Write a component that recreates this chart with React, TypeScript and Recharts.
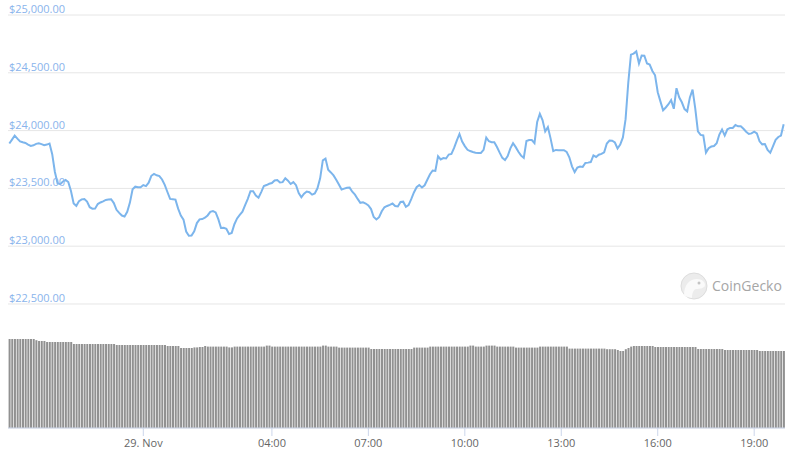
import React from 'react';
import { ComposedChart, Line, Bar, XAxis, YAxis, CartesianGrid } from 'recharts';

// 5 minute samples, first one at 28 Nov 19:50
const START_MINUTES = 19 * 60 + 50;
const STEP_MINUTES = 5;

const prices = [
  23888, 23922, 23957, 23931, 23907, 23899, 23893, 23879, 23868, 23873,
  23885, 23890, 23883, 23874, 23879, 23888, 23796, 23642, 23544, 23537,
  23560, 23573, 23555, 23478, 23369, 23349, 23390, 23405, 23408, 23386,
  23337, 23324, 23325, 23365, 23378, 23388, 23400, 23403, 23406, 23373,
  23315, 23288, 23265, 23257, 23298, 23377, 23493, 23515, 23510, 23510,
  23529, 23520, 23549, 23609, 23625, 23613, 23607, 23577, 23530, 23469,
  23409, 23407, 23403, 23325, 23265, 23230, 23127, 23091, 23093, 23129,
  23200, 23232, 23235, 23246, 23266, 23297, 23304, 23292, 23234, 23158,
  23159, 23151, 23105, 23115, 23190, 23240, 23271, 23298, 23355, 23410,
  23475, 23475, 23438, 23419, 23468, 23521, 23529, 23540, 23546, 23569,
  23573, 23551, 23554, 23588, 23567, 23538, 23554, 23528, 23460, 23424,
  23454, 23473, 23467, 23446, 23456, 23501, 23587, 23743, 23758, 23662,
  23638, 23612, 23575, 23534, 23490, 23498, 23506, 23507, 23471, 23446,
  23409, 23375, 23379, 23369, 23352, 23321, 23253, 23231, 23251, 23302,
  23337, 23348, 23358, 23369, 23347, 23344, 23382, 23385, 23341, 23356,
  23407, 23465, 23510, 23529, 23508, 23527, 23575, 23622, 23655, 23651,
  23778, 23750, 23762, 23759, 23793, 23798, 23850, 23914, 23971, 23906,
  23866, 23834, 23823, 23815, 23809, 23807, 23807, 23833, 23939, 23908,
  23899, 23899, 23858, 23809, 23764, 23745, 23779, 23846, 23891, 23857,
  23817, 23783, 23764, 23910, 23918, 23918, 23892, 24074, 24145, 24091,
  23993, 24030, 23933, 23822, 23833, 23831, 23830, 23830, 23816, 23769,
  23691, 23641, 23680, 23689, 23686, 23720, 23723, 23728, 23785, 23772,
  23791, 23799, 23812, 23888, 23914, 23913, 23897, 23845, 23879, 23941,
  24099, 24413, 24657, 24666, 24685, 24580, 24650, 24648, 24580, 24571,
  24516, 24478, 24332, 24253, 24176, 24200, 24228, 24264, 24189, 24367,
  24288, 24245, 24186, 24167, 24287, 24355, 24192, 23993, 23963, 23958,
  23810, 23848, 23862, 23867, 23891, 23966, 24010, 23957, 24011, 24023,
  24023, 24048, 24037, 24037, 24016, 23990, 23971, 23976, 23991, 23975,
  23907, 23881, 23884, 23832, 23808, 23863, 23920, 23945, 23957, 24055,
];

// 24h volume, billions
const volumes = [
  44.5, 44.5, 44.5, 44.5, 44.5, 44.5, 44.5, 44.5, 44.5, 44.5,
  43.9, 43.5, 43.5, 43.5, 43, 43, 43, 43, 43, 43,
  43, 43, 43, 43, 42, 42, 42, 42, 42, 42,
  42, 42, 42, 42, 42, 42, 42, 42, 42, 42,
  41.5, 41.5, 41.5, 41.5, 41.5, 41.5, 41.5, 41.5, 41.5, 41.5,
  41.5, 41.5, 41.5, 41.5, 41.5, 41.5, 41.5, 41.5, 41.5, 41,
  41, 41, 41, 41, 40, 40, 40, 40, 40, 40.3,
  40.3, 40.5, 40.5, 41, 40.7, 40.7, 40.7, 40.7, 40.7, 40.7,
  40.7, 40.7, 40.3, 40.3, 40.7, 40.7, 40.7, 40.7, 40.7, 40.7,
  40.7, 40.7, 40.7, 40.7, 40.7, 40.7, 41.2, 41.2, 40.7, 40.7,
  40.7, 40.7, 40.7, 40.7, 40.7, 40.7, 40.7, 40.7, 40.7, 40.7,
  40.7, 40.7, 40.7, 40.7, 40.7, 40.7, 40.7, 41.2, 41.2, 40.7,
  40.7, 40.7, 40.7, 40.2, 40.2, 40.2, 40.2, 40.2, 40.2, 40.2,
  40.2, 40.2, 40.2, 40.2, 40.2, 39.5, 39.5, 39.5, 39.5, 39.5,
  39.5, 39.5, 39.5, 39.5, 39.5, 39.5, 39.5, 39.5, 39.5, 39.5,
  39.5, 40.2, 40.2, 40.2, 40.2, 40.2, 40.2, 40.7, 40.7, 40.7,
  40.7, 40.7, 40.7, 40.7, 40.7, 40.7, 40.7, 40.7, 40.7, 40.7,
  40.7, 40.7, 41.2, 41.2, 40.7, 40.7, 40.7, 40.7, 41.2, 41.2,
  41.2, 41.2, 40.7, 40.7, 40.7, 40.7, 40.7, 40.7, 40.7, 40.2,
  40.2, 40.2, 40.2, 40.2, 40.2, 40.2, 40.2, 40.2, 40.7, 40.7,
  40.7, 40.7, 40.7, 40.7, 40.7, 40.7, 40.7, 40.7, 40.7, 39.7,
  39.7, 39.7, 39.7, 39.7, 39.7, 39.7, 39.7, 39.7, 39.7, 39.7,
  39.7, 39.7, 39.7, 39.4, 39.4, 39.4, 39.4, 39, 38.5, 38.5,
  39.4, 40, 40.7, 41, 41, 41, 41, 41, 41, 41,
  41, 40.5, 40.5, 40.5, 40.5, 40.5, 40.5, 40.5, 40.5, 40.5,
  40.5, 40.5, 40.5, 40.5, 40.5, 40.5, 40.5, 39.5, 39.5, 39.5,
  39.5, 39.5, 39.5, 39.5, 39.5, 39.5, 39.5, 39, 39, 39,
  39, 39, 39, 39, 39, 39, 39, 39, 39, 39,
  38.5, 38.5, 38.5, 38.5, 38.5, 38.5, 38.5, 38.5, 38.5, 38.5,
];

const priceTicks = [22500, 23000, 23500, 24000, 24500, 25000];
const timeTicks = ['00:00', '04:00', '07:00', '10:00', '13:00', '16:00', '19:00'];
const dayLabel = '29. Nov';

const pad = (n: number) => String(n).padStart(2, '0');

const data = prices.map((price, i) => {
  const m = (START_MINUTES + i * STEP_MINUTES) % 1440;
  return { time: `${pad(Math.floor(m / 60))}:${pad(m % 60)}`, price, volume: volumes[i] };
});

const FONT = "'Open Sans', 'Liberation Sans', sans-serif";

const PriceTick = (props: any) => {
  const { y, payload } = props;
  const label = '$' + Number(payload.value).toLocaleString('en-US', { minimumFractionDigits: 2 });
  return (
    <text x={9} y={y - 2} fill="#8ab4ec" fontSize={11} fontFamily={FONT} textAnchor="start">
      {label}
    </text>
  );
};

const TimeTick = (props: any) => {
  const { x, y, payload } = props;
  const v = payload?.value;
  if (!timeTicks.includes(v)) return <g />;
  return (
    <g>
      <line x1={x} x2={x} y1={y} y2={y + 8} stroke="#ccd6eb" />
      <text x={x} y={y + 19} textAnchor="middle" fill="#666666" fontSize={11} fontFamily={FONT}>
        {v === '00:00' ? dayLabel : v}
      </text>
    </g>
  );
};

export default function App() {
  return (
    <div style={{ position: 'absolute', left: 0, top: 0, width: 799, height: 460, background: '#fff' }}>
      <ComposedChart
        width={799}
        height={460}
        data={data}
        margin={{ top: 15, right: 14, left: 7, bottom: 0 }}
        barCategoryGap="22%"
      >
        <CartesianGrid vertical={false} stroke="#e6e6e6" />
        <XAxis
          dataKey="time"
          interval={0}
          tickLine={false}
          tickSize={0}
          tickMargin={0}
          height={32}
          axisLine={{ stroke: '#ccd6eb' }}
          tick={(p: any) => <TimeTick {...p} />}
        />
        <YAxis
          type="number"
          domain={[21427.3, 25000]}
          ticks={priceTicks}
          interval={0}
          width={1}
          axisLine={false}
          tickLine={false}
          allowDataOverflow
          tick={(p: any) => <PriceTick {...p} />}
        />
        <YAxis yAxisId="vol" hide domain={[0, 206.5]} allowDataOverflow />
        <Bar yAxisId="vol" dataKey="volume" fill="#919191" isAnimationActive={false} />
        <Line
          dataKey="price"
          type="linear"
          stroke="#7cb5ec"
          strokeWidth={2}
          dot={false}
          activeDot={false}
          isAnimationActive={false}
        />
      </ComposedChart>
      <svg width={120} height={40} style={{ position: 'absolute', left: 678, top: 266, pointerEvents: 'none' }}>
        <circle cx={16} cy={20} r={13} fill="#ececec" stroke="#dddddd" />
        <path d="M6,30 C6,18 12,13 19,13 C24,13 27,16 27,19 C27,22 22,23 18,23 C15,24 14,28 14,32 Z" fill="#fafafa" />
        <circle cx={21} cy={17} r={1.5} fill="#c4c4c4" />
        <text x={34} y={25} fontSize={14} fill="#a6a6a6" fontFamily={FONT}>CoinGecko</text>
      </svg>
    </div>
  );
}
